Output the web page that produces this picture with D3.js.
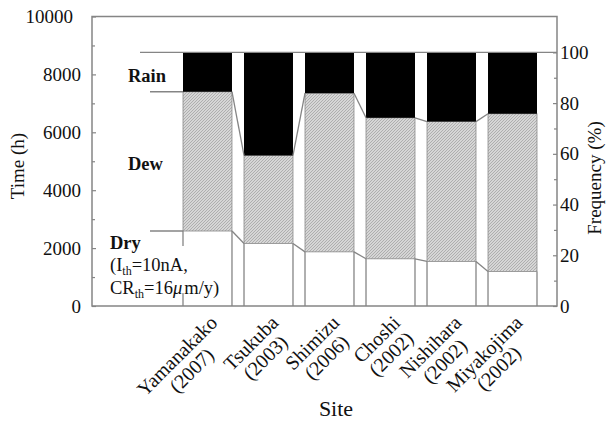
<!DOCTYPE html>
<html>
<head>
<meta charset="utf-8">
<script src="https://cdn.jsdelivr.net/npm/d3@7"></script>
<style>
  html, body { margin: 0; padding: 0; background: #fff; }
  svg { display: block; font-family: "Liberation Serif", "Times New Roman", serif; }
</style>
</head>
<body>
<svg id="chart" width="606" height="421"></svg>
<script>
// hours per year in each state (total 8760 h = 100 %)
const sites = ['Yamanakako', 'Tsukuba', 'Shimizu', 'Choshi', 'Nishihara', 'Miyakojima'];
const years = ['(2007)', '(2003)', '(2006)', '(2002)', '(2002)', '(2002)'];
const dryHours = [2590, 2160, 1870, 1630, 1540, 1190];
const dewHours = [4810, 3040, 5480, 4870, 4830, 5450];
const rainHours = [1360, 3560, 1410, 2260, 2390, 2120];
const timeTicks = [0, 2000, 4000, 6000, 8000, 10000];
const timeMinor = [1000, 3000, 5000, 7000, 9000];
const freqTicks = [0, 20, 40, 60, 80, 100];
const freqMinor = [10, 30, 50, 70, 90];
const hoursPerYear = 8760;

const svg = d3.select('#chart');
const plotLeft = 92, plotRight = 557, plotTop = 16.5, plotBottom = 306;
const lineGray = '#858585';

const y = d3.scaleLinear().domain([0, 10000]).range([plotBottom, plotTop]);
const yPct = d3.scaleLinear().domain([0, 100]).range([plotBottom, y(hoursPerYear)]);
const x = d3.scaleBand().domain(sites).range([183, 537]).paddingInner(0.197).paddingOuter(0);
const bw = x.bandwidth();

const rows = sites.map((s, i) => ({site: s, dry: dryHours[i], dew: dewHours[i], rain: rainHours[i]}));
const stacked = d3.stack().keys(['dry', 'dew', 'rain'])(rows);

const defs = svg.append('defs');
const pat = defs.append('pattern')
    .attr('id', 'dewHatch')
    .attr('patternUnits', 'userSpaceOnUse')
    .attr('width', 3).attr('height', 3);
pat.append('rect').attr('width', 3).attr('height', 3).attr('fill', '#d6d6d6');
pat.append('path').attr('d', 'M0,3L3,0M-1,1L1,-1M2,4L4,2')
    .attr('stroke', '#9c9c9c').attr('stroke-width', 0.7);

// bars
const fills = {dry: '#fff', dew: 'url(#dewHatch)', rain: '#000'};
stacked.forEach(layer => {
    svg.append('g').selectAll('rect')
        .data(layer)
        .enter()
        .append('rect')
        .attr('x', d => x(d.data.site))
        .attr('width', bw)
        .attr('y', d => y(d[1]))
        .attr('height', d => y(d[0]) - y(d[1]))
        .attr('fill', fills[layer.key])
        .attr('stroke', layer.key === 'dew' ? '#8a8a8a' : 'none')
        .attr('stroke-width', 0.8);
});

// edges of the dry part
const dryTop = stacked[0], dewTop = stacked[1];
const edges = svg.append('g').attr('stroke', lineGray).attr('stroke-width', 1.3);
dryTop.forEach((d, i) => {
    const x0 = x(d.data.site), x1 = x0 + bw;
    edges.append('line').attr('x1', x1).attr('x2', x1).attr('y1', y(d[1])).attr('y2', plotBottom);
    if (i > 0) {
        edges.append('line').attr('x1', x0).attr('x2', x0).attr('y1', y(d[1])).attr('y2', plotBottom);
    } else {
        // first bar only shows short stubs on its left side
        edges.append('line').attr('x1', x0).attr('x2', x0).attr('y1', y(d[1])).attr('y2', y(d[1]) + 15);
        edges.append('line').attr('x1', x0).attr('x2', x0).attr('y1', plotBottom - 13).attr('y2', plotBottom);
    }
});

// connecting lines between neighbouring bars
[dryTop, dewTop].forEach(layer => {
    for (let i = 0; i < layer.length - 1; i++) {
        const a = layer[i], b = layer[i + 1];
        edges.append('line')
            .attr('x1', x(a.data.site) + bw).attr('y1', y(a[1]))
            .attr('x2', x(b.data.site)).attr('y2', y(b[1]));
    }
    // leader to the left of the first bar
    edges.append('line')
        .attr('x1', 150).attr('x2', x(sites[0]))
        .attr('y1', y(layer[0][1])).attr('y2', y(layer[0][1]));
});
edges.append('line')
    .attr('x1', 140).attr('x2', plotRight)
    .attr('y1', y(hoursPerYear)).attr('y2', y(hoursPerYear));

// frame
svg.append('rect')
    .attr('x', plotLeft).attr('y', plotTop)
    .attr('width', plotRight - plotLeft).attr('height', plotBottom - plotTop)
    .attr('fill', 'none').attr('stroke', lineGray).attr('stroke-width', 1.5);

// axes
const leftAxis = svg.append('g')
    .attr('transform', `translate(${plotLeft},0)`)
    .call(d3.axisLeft(y).tickValues(timeTicks).tickSize(-4).tickPadding(11).tickFormat(d3.format('d')));
svg.append('g')
    .attr('transform', `translate(${plotRight},0)`)
    .call(d3.axisRight(yPct).tickValues(freqTicks).tickSize(-4).tickPadding(3).tickFormat(d3.format('d')));
svg.append('g').attr('transform', `translate(${plotLeft},0)`)
    .call(d3.axisLeft(y).tickValues(timeMinor).tickSize(-3).tickFormat(''));
svg.append('g').attr('transform', `translate(${plotRight},0)`)
    .call(d3.axisRight(yPct).tickValues(freqMinor).tickSize(-3).tickFormat(''));
svg.selectAll('.domain').remove();
svg.selectAll('.tick line').attr('stroke', lineGray).attr('stroke-width', 1.2);
svg.selectAll('.tick text')
    .attr('font-family', '"Liberation Serif", "Times New Roman", serif')
    .attr('font-size', 19).attr('fill', '#111');
leftAxis.selectAll('.tick text').filter(d => d === 10000).attr('dx', -8);

// axis titles
svg.append('text')
    .attr('transform', 'translate(24,166) rotate(-90)')
    .attr('text-anchor', 'middle').attr('font-size', 19).attr('fill', '#111')
    .text('Time (h)');
svg.append('text')
    .attr('transform', 'translate(601,178) rotate(-90)')
    .attr('text-anchor', 'middle').attr('font-size', 19).attr('fill', '#111')
    .text('Frequency (%)');
svg.append('text')
    .attr('x', 336).attr('y', 416)
    .attr('text-anchor', 'middle').attr('font-size', 22).attr('fill', '#111')
    .text('Site');

// site labels: two centred lines, block right-aligned, rotated 45 degrees
sites.forEach((s, i) => {
    const g = svg.append('g')
        .attr('transform', `translate(${x(s) + bw / 2 + 11},324) rotate(-45)`);
    const lines = [s, years[i]].map((t, k) => g.append('text')
        .attr('y', k * 20.5)
        .attr('text-anchor', 'middle')
        .attr('font-size', 20).attr('fill', '#111')
        .text(t));
    const w = d3.max(lines, l => l.node().getComputedTextLength());
    lines.forEach(l => l.attr('x', -w / 2));
});

// state labels
const note = svg.append('g').attr('fill', '#111').attr('font-size', 18.5);
note.append('text').attr('x', 128).attr('y', 81.5).attr('font-weight', 'bold').text('Rain');
note.append('text').attr('x', 128).attr('y', 170).attr('font-weight', 'bold').text('Dew');
note.append('text').attr('x', 110).attr('y', 249).attr('font-weight', 'bold').text('Dry');
const l1 = note.append('text').attr('x', 110).attr('y', 271);
l1.append('tspan').text('(I');
l1.append('tspan').attr('font-size', 12).attr('dy', 3.5).text('th');
l1.append('tspan').attr('dy', -3.5).text('=10nA,');
const l2 = note.append('text').attr('x', 110).attr('y', 294);
l2.append('tspan').text('CR');
l2.append('tspan').attr('font-size', 12).attr('dy', 3.5).text('th');
l2.append('tspan').attr('dy', -3.5).text('=16');
l2.append('tspan').attr('font-style', 'italic').text('\u03bc');
l2.append('tspan').attr('dx', 2).text('m/y)');
</script>
</body>
</html>
